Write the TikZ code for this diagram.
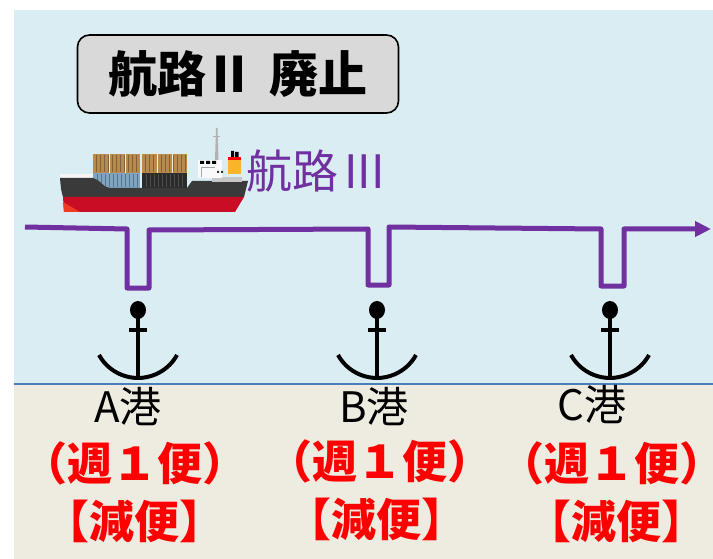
\documentclass[tikz,border=0pt]{standalone}
\usepackage{fontspec}
\setmainfont{Noto Sans CJK JP}
\usetikzlibrary{arrows.meta}

\definecolor{seablue}{HTML}{DAEDF3}
\definecolor{landbeige}{HTML}{EEEBE1}
\definecolor{shoreblue}{HTML}{4A7EBB}
\definecolor{routepurple}{HTML}{7030A0}
\definecolor{noticegray}{HTML}{D9D9D9}
\definecolor{hullgray}{HTML}{3A3A3A}
\definecolor{hullred}{HTML}{C80D25}
\definecolor{bowred}{HTML}{F03A22}
\definecolor{boxbrown}{HTML}{B88A4C}
\definecolor{boxblue}{HTML}{7EA6C2}
\definecolor{boxdark}{HTML}{2B2B2B}
\definecolor{funnelyellow}{HTML}{F8B52A}

\tikzset{
  notice/.style={draw=black, line width=1.6pt, fill=noticegray, rounded corners=12pt,
    minimum width=321pt, minimum height=78pt, inner sep=0pt,
    font=\fontsize{49}{52}\selectfont\bfseries},
  route/.style={draw=routepurple, line width=5pt, line join=round,
    -{Triangle[length=16pt,width=15pt]}},
  routelabel/.style={text=routepurple, inner sep=0pt, anchor=west,
    font=\fontsize{46}{50}\selectfont},
  port/.style={text=black, inner sep=0pt, font=\fontsize{42}{46}\selectfont},
  cut/.style={text=red, inner sep=0pt, font=\fontsize{45}{48}\selectfont\bfseries},
  shipanchor/.pic={
    \fill (0,0) ellipse [x radius=8pt, y radius=9pt];
    \draw[line width=4pt] (0,0) -- (0,69);
    \draw[line width=4pt] (-9,20) -- (9,20);
    \draw[line width=4pt] (-39,45) arc[start angle=209, end angle=331, radius=44.6pt];
  }
}

\begin{document}
\begin{tikzpicture}[x=1pt,y=-1pt]
\useasboundingbox (0,0) rectangle (713,559);

% sea, land and shoreline
\fill[seablue] (14,10) rectangle (713,383);
\fill[landbeige] (14,383) rectangle (713,559);
\draw[shoreblue, line width=2pt] (14,383.5) -- (713,383.5);

% abolished route notice
\node[notice] (closed) at (238,74) {航路\hspace{6pt}II\hspace{22pt}廃止};

% container ship
\begin{scope}
  % containers
  \fill[boxbrown] (93,154) rectangle (140,173);
  \fill[boxbrown] (142,154) rectangle (187,173);
  \foreach \cx in {96,100,...,138} \draw[boxbrown!70!black, line width=0.5pt] (\cx,155) -- (\cx,172);
  \foreach \cx in {145,149,...,185} \draw[boxbrown!70!black, line width=0.5pt] (\cx,155) -- (\cx,172);
  \draw[white!85!boxbrown, line width=0.6pt] (109,154) -- (109,173) (125,154) -- (125,173)
    (157,154) -- (157,173) (172,154) -- (172,173);
  \fill[boxblue] (93,173) rectangle (140,188);
  \fill[boxdark] (142,173) rectangle (187,188);
  \foreach \cx in {97,101,...,137} \draw[boxblue!70!black, line width=0.5pt] (\cx,174) -- (\cx,187);
  \foreach \cx in {146,150,...,185} \draw[gray!60!black, line width=0.5pt] (\cx,174) -- (\cx,187);
  % bow deck
  \fill[white!92!gray] (60,174) rectangle (93,178);
  % hull
  \fill[hullgray] (60,178) -- (93,178) .. controls (100,179) and (103,188) .. (110,188)
    -- (187,188) -- (192,181) -- (248,181) -- (244,197) -- (63,197)
    .. controls (61,190) .. (60,178) -- cycle;
  \fill[hullred] (63,197) -- (244,197) -- (235,212) -- (64,212) -- cycle;
  \fill[bowred] (63,202) -- (80,212) -- (64,212) -- cycle;
  % superstructure
  \fill[gray!45] (212,177) rectangle (242,182);
  \fill[white!95!gray] (198,160) rectangle (222,178);
  \draw[gray!70, line width=1pt] (201,177) -- (201,168) -- (215,168);
  \fill[black] (200,161) rectangle (204,164) (206,161) rectangle (210,164) (212,161) rectangle (216,164);
  \fill[black!80] (217,171) rectangle (219,173) (221,171) rectangle (223,173);
  \fill[gray!60] (215,160) -- (216,128) -- (217.5,128) -- (218.5,160) -- cycle;
  \fill[gray!60] (213,136) rectangle (220,137.5);
  \fill[funnelyellow] (228,160) rectangle (241,174);
  \fill[red] (228,157) rectangle (241,160);
  \fill[black] (231,151) rectangle (234,157) (235,152) rectangle (238.5,157);
\end{scope}

\node[routelabel] (routeIII) at (246,171) {航路\hspace{6pt}III};

% route III calling at the three ports
\coordinate (routeStart) at (25,227);
\coordinate (routeEnd) at (711,229);
\draw[route] (routeStart) -- (127,229) -- (127,288) -- (149,288) -- (149,230)
  -- (368,229) -- (368,285) -- (389,285) -- (389,227)
  -- (601,229) -- (601,286) -- (624,286) -- (624,229) -- (routeEnd);

% port anchors
\pic (anchorA) at (138,310) {shipanchor};
\pic (anchorB) at (377,310) {shipanchor};
\pic (anchorC) at (610,310) {shipanchor};

% port names and service changes
\node[port] (portA) at (128,407) {A港};
\node[port] (portB) at (374,407) {B港};
\node[port] (portC) at (592,405) {C港};

\node[cut] (freqA) at (135,463) {（週１便）};
\node[cut] (freqB) at (380,461) {（週１便）};
\node[cut] (freqC) at (612,463) {（週１便）};

\node[cut] (cutA) at (135,521) {【減便】};
\node[cut] (cutB) at (376,519) {【減便】};
\node[cut] (cutC) at (616,521) {【減便】};
\end{tikzpicture}
\end{document}
